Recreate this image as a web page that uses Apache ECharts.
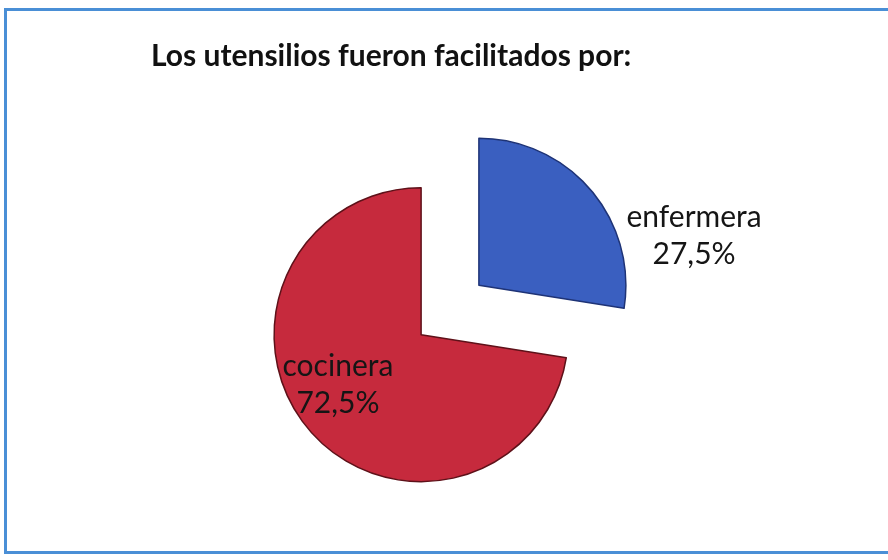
<!DOCTYPE html>
<html>
<head>
<meta charset="utf-8">
<script src="https://cdn.jsdelivr.net/npm/echarts@6/dist/echarts.min.js"></script>
<style>
  html, body { margin: 0; padding: 0; background: #fff; }
  #frame {
    position: absolute; left: 4px; top: 8px; width: 890px; height: 546px;
    border: 3px solid #4a8fd6; box-sizing: border-box;
  }
  #chart { position: absolute; left: 0; top: 0; width: 888px; height: 560px; }
</style>
</head>
<body>
<div id="frame"></div>
<div id="chart"></div>
<script>
// chart data
const categories = ['enfermera', 'cocinera']
const values = [27.5, 72.5]
const colors = ['#3a5fc0', '#c62a3d']
const borders = ['#1e3376', '#5e1119']

// nudges for the labels, as label padding [top, right, bottom, left]
// (pie labels sit on the slice bisector, these push them to where the scan has them)
const labelPadding = [[4, 0, 0, 314], [0, 50, 20, 0]]

const chart = echarts.init(document.getElementById('chart'), null, { renderer: 'canvas' })

chart.setOption({
  animation: false,
  title: {
    text: 'Los utensilios fueron facilitados por:',
    left: 146,
    top: 36,
    textStyle: {
      fontFamily: 'Lato',
      fontWeight: 'bold',
      fontSize: 30,
      color: '#111'
    }
  },
  series: [{
    type: 'pie',
    center: [450, 310],
    radius: 147,
    startAngle: 90,
    clockwise: true,
    selectedMode: 'multiple',
    selectedOffset: 38,
    emphasis: { disabled: true },
    label: {
      show: true,
      position: 'inside',
      fontFamily: 'Lato',
      fontSize: 30,
      lineHeight: 37,
      color: '#151515',
      formatter: function(p) {
        return p.name + '\n' + p.percent.toFixed(1).replace('.', ',') + '%'
      }
    },
    labelLine: { show: false },
    data: categories.map((name, i) => ({
      name: name,
      value: values[i],
      selected: true,
      label: { padding: labelPadding[i] },
      itemStyle: {
        color: colors[i],
        borderColor: borders[i],
        borderWidth: 1.5
      }
    }))
  }]
})
</script>
</body>
</html>
